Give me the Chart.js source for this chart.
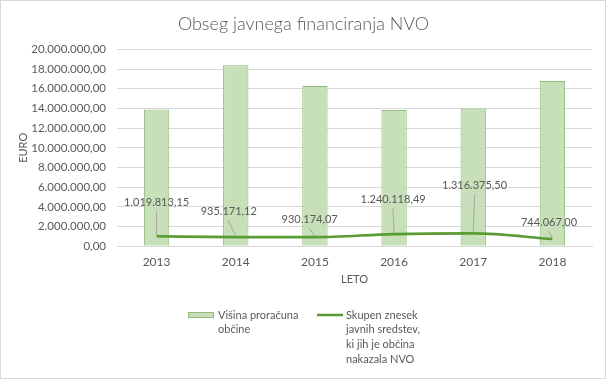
<!DOCTYPE html>
<html><head><meta charset="utf-8">
<script src="https://cdn.jsdelivr.net/npm/chart.js@4.4.1/dist/chart.umd.min.js"></script>
<style>
html,body{margin:0;padding:0;background:#fff;}
#wrap{position:relative;width:606px;height:379px;box-sizing:border-box;border:1px solid #d9d9d9;}
canvas{position:absolute;left:-1px;top:-1px;}
</style></head>
<body><div id="wrap"><canvas id="c" width="606" height="379"></canvas></div>
<script>
const categories = ['2013','2014','2015','2016','2017','2018'];
const budgetValues = [13880000, 18370000, 16270000, 13850000, 13980000, 16780000];
const fundingValues = [1019813.15, 935171.12, 930174.07, 1240118.49, 1316375.50, 744067.00];
const yTicks = [0,2000000,4000000,6000000,8000000,10000000,12000000,14000000,16000000,18000000,20000000];
const titleText = 'Obseg javnega financiranja NVO';
const budgetLabel = ['Višina proračuna', 'občine'];
const fundingLabel = ['Skupen znesek', 'javnih sredstev,', 'ki jih je občina', 'nakazala NVO'];

const FONT = 'Lato, "Open Sans", sans-serif';
const GREY = '#595959';

function fmt(v){
  const parts = v.toFixed(2).split('.');
  return parts[0].replace(/\B(?=(\d{3})+(?!\d))/g,'.') + ',' + parts[1];
}

// data label placement: offset of label centre from the point
const labelOffsets = [[0,-33.6],[-7,-26],[-5.3,-17.8],[-1,-35],[1.3,-48.3],[-3.4,-16.7]];

const customDraw = {
  id:'customDraw',
  afterDraw(chart){
    const ctx = chart.ctx;
    ctx.save();
    ctx.fillStyle = GREY;
    ctx.font = '300 18px ' + FONT;
    ctx.textAlign = 'center';
    ctx.textBaseline = 'middle';
    ctx.fillText(titleText, 303.5, 24);
    const meta = chart.getDatasetMeta(1);
    ctx.font = '11px ' + FONT;
    meta.data.forEach((pt,i)=>{
      const [dx,dy] = labelOffsets[i];
      const lx = pt.x + dx, ly = pt.y + dy;
      const from = ly + 9;
      if (pt.y - 2 - from > 3){
        ctx.strokeStyle = '#a6a6a6';
        ctx.lineWidth = 1;
        ctx.beginPath();
        ctx.moveTo(lx + dx*0.1, from);
        ctx.lineTo(pt.x, pt.y - 1);
        ctx.stroke();
      }
      ctx.fillStyle = GREY;
      ctx.fillText(fmt(fundingValues[i]), lx, ly);
    });
    // legend
    ctx.font = '11px ' + FONT;
    ctx.textAlign = 'left';
    ctx.textBaseline = 'middle';
    const ds = chart.data.datasets;
    ctx.fillStyle = ds[0].backgroundColor;
    ctx.fillRect(188, 312, 26, 6);
    ctx.strokeStyle = ds[0].borderColor;
    ctx.lineWidth = 1;
    ctx.strokeRect(188.5, 312.5, 25, 5);
    ctx.fillStyle = GREY;
    budgetLabel.forEach((t,k)=>ctx.fillText(t, 218, 315 + k*14.8));
    ctx.strokeStyle = ds[1].borderColor;
    ctx.lineWidth = 2.5;
    ctx.beginPath(); ctx.moveTo(317,315); ctx.lineTo(343,315); ctx.stroke();
    ctx.fillStyle = GREY;
    fundingLabel.forEach((t,k)=>ctx.fillText(t, 346, 315 + k*14.8));
    ctx.restore();
  }
};

new Chart(document.getElementById('c'), {
  data: {
    labels: categories,
    datasets: [
      { type:'bar', label: budgetLabel.join(' '), data: budgetValues,
        backgroundColor:'#c7e0b9', borderColor:'#92bb7e', borderWidth:1,
        categoryPercentage:1, barPercentage:0.32, order:2 },
      { type:'line', label: fundingLabel.join(' '), data: fundingValues,
        borderColor:'#5b9b34', borderWidth:2.6, pointRadius:0,
        cubicInterpolationMode:'monotone', order:1 }
    ]
  },
  options: {
    responsive:false, animation:false,
    layout:{ padding:{ left:0, right:14, top:49.3, bottom:82.7 } },
    plugins:{ legend:{display:false}, title:{display:false}, tooltip:{enabled:false} },
    scales:{
      x:{
        grid:{ display:false, drawTicks:false },
        border:{ display:true, color:'#d9d9d9' },
        ticks:{ color:GREY, font:{ family:FONT, size:12 }, padding:9 },
        title:{ display:true, text:'LETO', color:GREY, font:{ family:FONT, size:11 }, padding:{top:0,bottom:10} },
        afterFit(s){ s.height = 50; }
      },
      y:{
        min:0, max:20000000,
        afterBuildTicks(s){ s.ticks = yTicks.map(v=>({value:v})); },
        grid:{ color:'#d9d9d9', drawTicks:false },
        border:{ display:false },
        ticks:{ color:GREY, font:{ family:FONT, size:11.5 }, padding:11, callback:v=>fmt(v) },
        title:{ display:true, text:'EURO', color:GREY, font:{ family:FONT, size:11 }, padding:{top:17,bottom:0} },
        afterFit(s){ s.width = 117; }
      }
    }
  },
  plugins:[customDraw]
});
</script></body></html>
